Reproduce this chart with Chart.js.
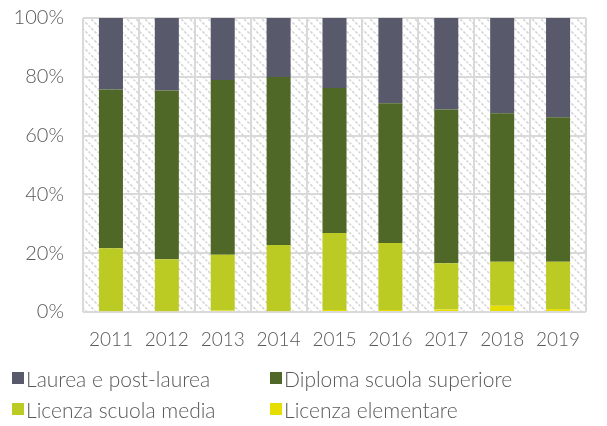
<!DOCTYPE html>
<html>
<head>
<meta charset="utf-8">
<script src="https://cdn.jsdelivr.net/npm/chart.js@4"></script>
<style>
    html, body { margin: 0; padding: 0; background: #fff; }
    #wrap { position: relative; width: 607px; height: 426px; }
    #legend { position: absolute; left: 12px; top: 365px; width: 595px; display: grid;
              grid-template-columns: 258px 330px; row-gap: 5px;
              font-family: Lato, sans-serif; font-weight: 300; font-size: 21px; color: #595959; }
    .item { display: flex; align-items: center; white-space: nowrap; height: 26px; }
    .box { width: 12px; height: 12px; margin-right: 2px; flex: none; }
</style>
</head>
<body>
<div id="wrap">
    <canvas id="chart" width="607" height="426"></canvas>
    <div id="legend"></div>
</div>
<script>
// years on the x axis
const years = ['2011', '2012', '2013', '2014', '2015', '2016', '2017', '2018', '2019'];

// shares in percent (bottom to top)
const licenzaElementare = [0.3, 0.3, 0.5, 0.3, 0.7, 0.7, 0.9, 2.1, 1.0];
const licenzaMedia = [21.4, 17.6, 19.0, 22.5, 26.2, 22.8, 15.7, 15.0, 16.1];
const diplomaSuperiore = [54.0, 57.4, 59.4, 57.1, 49.3, 47.5, 52.3, 50.5, 49.1];
const laurea = [24.3, 24.7, 21.1, 20.1, 23.8, 29.0, 31.1, 32.4, 33.8];

const yTicks = [0, 20, 40, 60, 80, 100];

const series = [
    { label: 'Licenza elementare', data: licenzaElementare, color: '#E6DE00' },
    { label: 'Licenza scuola media', data: licenzaMedia, color: '#BCCB24' },
    { label: 'Diploma scuola superiore', data: diplomaSuperiore, color: '#4F6828' },
    { label: 'Laurea e post-laurea', data: laurea, color: '#585A6C' }
];

// diagonal hatch behind the bars
function makeHatch() {
    const c = document.createElement('canvas');
    c.width = 9; c.height = 9;
    const g = c.getContext('2d');
    g.strokeStyle = '#d6d6d6';
    g.lineWidth = 1.6;
    g.setLineDash([3, 1.5]);
    g.beginPath();
    g.moveTo(-2, -2); g.lineTo(11, 11);
    g.moveTo(-2, 7); g.lineTo(2, 11);
    g.moveTo(7, -2); g.lineTo(11, 2);
    g.stroke();
    return g.createPattern(c, 'repeat');
}

const hatchPlugin = {
    id: 'hatch',
    beforeDraw(chart) {
        const a = chart.chartArea;
        const ctx = chart.ctx;
        ctx.save();
        ctx.fillStyle = makeHatch();
        ctx.fillRect(a.left, a.top, a.right - a.left, a.bottom - a.top);
        ctx.restore();
    }
};

new Chart(document.getElementById('chart').getContext('2d'), {
    type: 'bar',
    data: {
        labels: years,
        datasets: series.map(s => ({
            label: s.label,
            data: s.data,
            backgroundColor: s.color,
            borderWidth: 0,
            barPercentage: 0.43,
            categoryPercentage: 1
        }))
    },
    options: {
        responsive: false,
        animation: false,
        layout: { padding: { left: 0, right: 21, top: 18, bottom: 64 } },
        plugins: {
            legend: { display: false },
            tooltip: { enabled: false }
        },
        scales: {
            x: {
                stacked: true,
                grid: { color: '#d9d9d9', lineWidth: 2, drawTicks: false },
                border: { display: false },
                ticks: { color: '#595959', font: { family: 'Lato, sans-serif', size: 19, weight: 300 }, padding: 16, maxRotation: 0 },
                afterFit(scale) { scale.height = 50; scale.paddingLeft = 0; scale.paddingRight = 0; }
            },
            y: {
                stacked: true,
                min: 0,
                max: 100,
                afterBuildTicks(scale) { scale.ticks = yTicks.map(v => ({ value: v })); },
                grid: { color: '#d9d9d9', lineWidth: 2, drawTicks: false },
                border: { display: false },
                ticks: { color: '#595959', font: { family: 'Lato, sans-serif', size: 20, weight: 300 }, padding: 19, callback: v => v + '%' },
                afterFit(scale) { scale.width = 83; scale.paddingTop = 0; scale.paddingBottom = 0; }
            }
        }
    },
    plugins: [hatchPlugin]
});

// two-column legend, same order as the reference
const legendEl = document.getElementById('legend');
[3, 2, 1, 0].forEach(i => {
    const s = series[i];
    const item = document.createElement('div');
    item.className = 'item';
    const box = document.createElement('span');
    box.className = 'box';
    box.style.background = s.color;
    const txt = document.createElement('span');
    txt.textContent = s.label;
    item.appendChild(box);
    item.appendChild(txt);
    legendEl.appendChild(item);
});
</script>
</body>
</html>
